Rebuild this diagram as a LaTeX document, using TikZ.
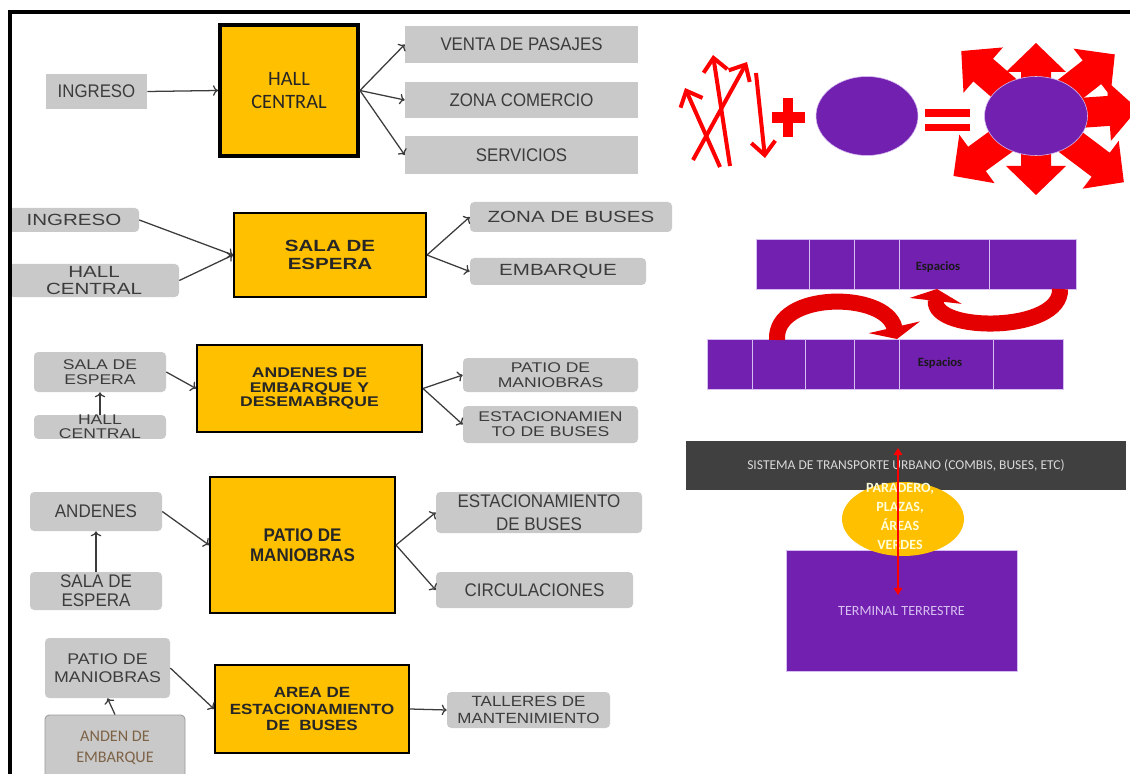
\documentclass[tikz,border=0pt]{standalone}
\usepackage{fontspec}
\setmainfont{Liberation Sans}
\newfontfamily\fuenteA{Liberation Sans}[FakeStretch=0.92]
\newfontfamily\fuenteB{Liberation Sans}[FakeStretch=1.27]
\newfontfamily\fuenteC{Liberation Sans}[FakeStretch=1.25]
\newfontfamily\fuenteD{Liberation Sans}[FakeStretch=0.93]
\newfontfamily\fuenteE{Liberation Sans}[FakeStretch=1.15]
\newfontfamily\calib{Carlito}
\usetikzlibrary{arrows.meta,shapes.geometric}

\definecolor{cajagris}{RGB}{201,201,201}
\definecolor{textogris}{RGB}{60,60,60}
\definecolor{amarillo}{RGB}{255,192,0}
\definecolor{morado}{RGB}{114,32,176}
\definecolor{lavanda}{RGB}{215,190,240}
\definecolor{barra}{RGB}{64,64,64}
\definecolor{rojo}{RGB}{255,0,0}
\definecolor{rojocurva}{RGB}{228,0,0}
\definecolor{marron}{RGB}{125,98,70}

\tikzset{
  sz/.style 2 args={minimum width=#1*0.025cm, minimum height=#2*0.025cm},
  gbox/.style={fill=cajagris, text=textogris, inner sep=0pt, align=center},
  rbox/.style={gbox, rounded corners=3pt},
  ybox/.style={fill=amarillo, draw=black, line width=1.4pt, inner sep=0pt, align=center, text=black!85},
  flecha/.style={->, draw=textogris, line width=0.9pt},
  fino/.style={rojo, line width=0.1cm, -{Straight Barb[length=0.33cm, width=0.6cm]}},
  curva/.style={rojocurva, line width=0.4cm, -{Triangle[length=0.3cm, width=1.3cm]}},
  celda/.style={fill=morado, draw=lavanda, line width=0.6pt},
  elipse/.style={ellipse, fill=morado, draw=lavanda, line width=0.4pt, inner sep=0pt},
}

\begin{document}
\begin{tikzpicture}[x=0.025cm, y=-0.025cm]
  \useasboundingbox (0,0) rectangle (1130,774);
  \clip (0,0) rectangle (1130,774);
  \fill[white] (0,0) rectangle (1130,774);

  % HALL CENTRAL
  \node[gbox, sz={101}{35}, font=\fuenteA\fontsize{13}{15}\selectfont] (ing1) at (96.5,91.5) {INGRESO};
  \node[ybox, line width=2.8pt, sz={138}{131}, font=\calib\fontsize{14.5}{16.5}\selectfont] (hall1) at (289,90.5) {HALL\\CENTRAL};
  \node[gbox, sz={233}{37}, font=\fuenteA\fontsize{13}{15}\selectfont] (venta) at (521.5,44.5) {VENTA DE PASAJES};
  \node[gbox, sz={233}{36}, font=\fuenteA\fontsize{13}{15}\selectfont] (comercio) at (521.5,100) {ZONA COMERCIO};
  \node[gbox, sz={233}{38}, font=\fuenteA\fontsize{13}{15}\selectfont] (serv) at (521.5,155) {SERVICIOS};
  \draw[flecha] (ing1.east) -- (hall1.west);
  \draw[flecha] (hall1.east) -- (venta.west);
  \draw[flecha] (hall1.east) -- (comercio.west);
  \draw[flecha] (hall1.east) -- (serv.west);

  % SALA DE ESPERA
  \node[rbox, sz={130}{24}, font=\fuenteB\fontsize{11.5}{13}\selectfont] (ing2) at (74,220) {INGRESO};
  \node[rbox, sz={170}{33}, font=\fuenteB\fontsize{11.5}{12.5}\selectfont] (hall2) at (94,280.5) {HALL\\CENTRAL};
  \node[ybox, sz={192}{84}, font=\fuenteB\bfseries\fontsize{11.5}{12.8}\selectfont] (sala2) at (330,255) {SALA DE\\ESPERA};
  \node[rbox, sz={202}{30}, font=\fuenteB\fontsize{11.5}{13}\selectfont] (zona2) at (571,217) {ZONA DE BUSES};
  \node[rbox, sz={176}{27}, font=\fuenteB\fontsize{11.5}{13}\selectfont] (emb2) at (558,271.5) {EMBARQUE};
  \draw[flecha] (ing2.east) -- (sala2.west);
  \draw[flecha] (hall2.east) -- (sala2.west);
  \draw[flecha] (sala2.east) -- (zona2.west);
  \draw[flecha] (sala2.east) -- (emb2.west);

  % ANDENES
  \node[rbox, sz={132}{40}, font=\fuenteC\fontsize{10}{10.7}\selectfont] (sala3) at (100,372) {SALA DE\\ESPERA};
  \node[rbox, sz={132}{22}, font=\fuenteC\fontsize{10}{10}\selectfont] (hall3) at (100,427) {HALL\\CENTRAL};
  \node[ybox, sz={225}{87}, font=\fuenteC\bfseries\fontsize{10}{10}\selectfont] (and3) at (309.5,388.5) {ANDENES DE\\EMBARQUE Y\\DESEMABRQUE};
  \node[rbox, sz={175}{34}, font=\fuenteC\fontsize{10}{10.7}\selectfont] (patio3) at (550.5,375) {PATIO DE\\MANIOBRAS};
  \node[rbox, sz={175}{37}, font=\fuenteC\fontsize{10}{10.7}\selectfont] (est3) at (550.5,424.5) {ESTACIONAMIEN\\TO DE BUSES};
  \draw[flecha] (hall3.north) -- (sala3.south);
  \draw[flecha] (sala3.east) -- (and3.west);
  \draw[flecha] (and3.east) -- (patio3.west);
  \draw[flecha] (and3.east) -- (est3.west);

  % PATIO DE MANIOBRAS
  \node[rbox, sz={132}{39}, font=\fuenteD\fontsize{13}{14}\selectfont] (and4) at (96,511.5) {ANDENES};
  \node[rbox, sz={132}{38}, font=\fuenteD\fontsize{13}{13.5}\selectfont] (sala4) at (96,591) {SALA DE\\ESPERA};
  \node[ybox, sz={185}{136}, font=\fuenteD\bfseries\fontsize{13}{14}\selectfont] (patio4) at (302.5,545) {PATIO DE\\MANIOBRAS};
  \node[rbox, sz={206}{41}, font=\fuenteD\fontsize{13}{16}\selectfont] (est4) at (539,512.5) {ESTACIONAMIENTO\\DE BUSES};
  \node[rbox, sz={197}{36}, font=\fuenteD\fontsize{13}{14}\selectfont] (circ4) at (534.5,590) {CIRCULACIONES};
  \draw[flecha] (sala4.north) -- (and4.south);
  \draw[flecha] (and4.east) -- (patio4.west);
  \draw[flecha] (patio4.east) -- (est4.west);
  \draw[flecha] (patio4.east) -- (circ4.west);

  % AREA DE ESTACIONAMIENTO
  \node[rbox, sz={125}{60}, font=\fuenteE\fontsize{11}{13}\selectfont] (patio5) at (107.5,668) {PATIO DE\\MANIOBRAS};
  \node[rbox, draw=gray!80, line width=0.6pt, sz={140}{66}, text=marron, font=\calib\fontsize{11.5}{15}\selectfont] (anden5) at (115,748) {ANDEN DE\\EMBARQUE};
  \node[ybox, sz={194}{88}, font=\fuenteE\bfseries\fontsize{10.5}{11.5}\selectfont] (area5) at (312,709) {AREA DE\\ESTACIONAMIENTO\\DE~~BUSES};
  \node[rbox, sz={163}{36}, font=\fuenteE\fontsize{10.5}{12}\selectfont] (tall5) at (528.5,710) {TALLERES DE\\MANTENIMIENTO};
  \draw[flecha] (anden5.north) -- (patio5.south);
  \draw[flecha] (patio5.east) -- (area5.west);
  \draw[flecha] (area5.east) -- (tall5.west);

  % flechas sueltas + espacio = espacio que irradia
  \draw[fino] (720,167) -- (685,88);
  \draw[fino] (730,166) -- (713,55);
  \draw[fino] (693,160) -- (747,62);
  \draw[fino] (756,73) -- (765,158);
  \fill[rojo] (772,112) rectangle (805,123);
  \fill[rojo] (783,98) rectangle (793,137);
  \node[elipse, sz={102}{79}] (elip1) at (867,116) {};
  \fill[rojo] (925,109) rectangle (970,117);
  \fill[rojo] (925,124) rectangle (970,131);
  \foreach \a/\l in {-90/79, -37/110, 4/102, 38/100, 90/73, 139/99, 216/102}{
    \begin{scope}[shift={(1036,116)}, rotate=\a]
      \fill[rojo] (0,-15) -- ({\l-29},-15) -- ({\l-29},-30) -- (\l,0)
        -- ({\l-29},30) -- ({\l-29},15) -- (0,15) -- cycle;
    \end{scope}
  }
  \node[elipse, sz={103}{79}] (elip2) at (1036,116) {};

  % espacios
  \foreach \a/\b in {756/809, 809/854, 854/899, 899/989, 989/1076}
    \draw[celda] (\a,239) rectangle (\b,289);
  \foreach \a/\b in {707/752, 752/805, 805/854, 854/899, 899/993, 993/1063}
    \draw[celda] (\a,339) rectangle (\b,389);
  \node[font=\calib\bfseries\fontsize{9}{10}\selectfont, text=black!90] (esp1) at (938,267) {Espacios};
  \node[font=\calib\bfseries\fontsize{9}{10}\selectfont, text=black!90] (esp2) at (940,363) {Espacios};
  \draw[curva] (777,340) .. controls (774,291) and (886,291) .. (897,339);
  \draw[curva] (1060,289) .. controls (1062,333) and (932,333) .. (937,289);

  % terminal y ciudad
  \node[fill=barra, sz={440}{49}, text=black!15, font=\calib\fontsize{9.6}{11}\selectfont] (sistema) at (906,465.5) {SISTEMA DE TRANSPORTE URBANO (COMBIS, BUSES, ETC)};
  \node[fill=morado, draw=lavanda, line width=0.4pt, sz={231}{121}, text=lavanda, font=\calib\fontsize{10}{12}\selectfont] (terminal) at (901.5,610.5) {TERMINAL TERRESTRE};
  \node[ellipse, fill=amarillo, inner sep=0pt, sz={122}{74}] (paradero) at (903,519) {};
  \node[text=yellow!15, align=center, font=\calib\bfseries\fontsize{10}{13.5}\selectfont] (paraderotxt) at (900,516) {PARADERO,\\PLAZAS,\\ÁREAS\\VERDES};
  \coordinate (arriba) at (898,448);
  \coordinate (abajo) at (898,595);
  \draw[rojo, line width=1.8pt, {Triangle[length=5pt, width=6pt]}-{Triangle[length=5pt, width=6pt]}] (arriba) -- (abajo);

  % marco
  \draw[line width=0.09cm] (10,774) -- (10,12) -- (1130,12);
\end{tikzpicture}
\end{document}
